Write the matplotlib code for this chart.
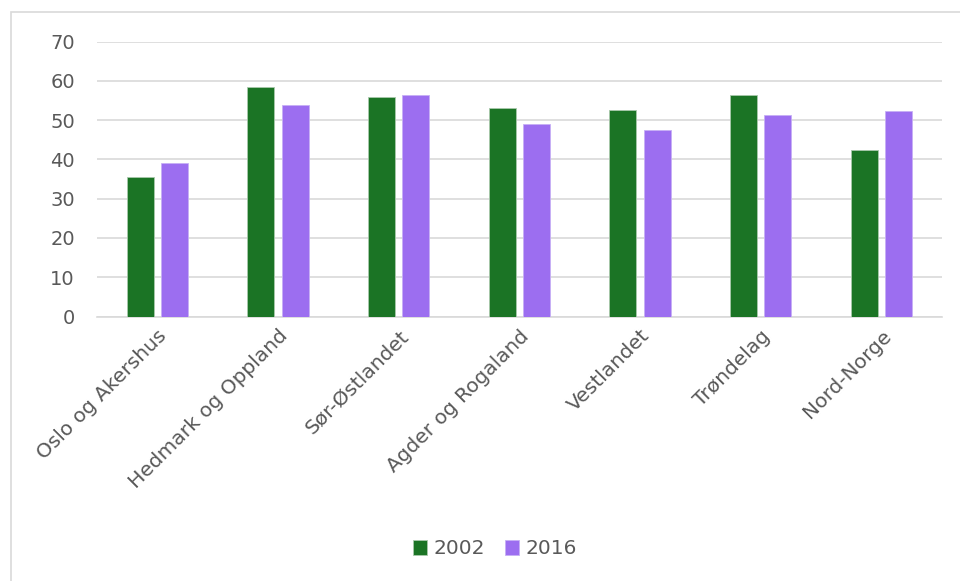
import matplotlib
matplotlib.use("Agg")
import matplotlib.pyplot as plt
from matplotlib.patches import Rectangle
import numpy as np

categories = ["Oslo og Akershus", "Hedmark og Oppland", "Sør-Østlandet", "Agder og Rogaland",
              "Vestlandet", "Trøndelag", "Nord-Norge"]
v2002 = [35.4, 58.3, 55.9, 53.0, 52.5, 56.3, 42.4]
v2016 = [39.1, 53.8, 56.3, 49.1, 47.5, 51.3, 52.3]
yticks = [0, 10, 20, 30, 40, 50, 60, 70]

plt.rcParams['font.family'] = ['DejaVu Sans']
txt = '#595959'
green = '#1b7425'
purple = '#9c6ef0'

fig = plt.figure(figsize=(9.6, 5.81), dpi=100)
fig.patches.append(Rectangle((11/960, -0.05), 1.0, (581-12)/581 + 0.05, transform=fig.transFigure,
                             fill=False, edgecolor='#d9d9d9', linewidth=1.2))
ax = fig.add_axes([97/960, 264.5/581, (941.7-97)/960, 275/581])
x = np.arange(len(categories))
w = 0.224
off = 0.142
ax.bar(x - off, v2002, w, color=green, edgecolor='#a9c9ac', linewidth=0.6, label='2002', zorder=3)
ax.bar(x + off, v2016, w, color=purple, edgecolor='#c7b0f5', linewidth=0.6, label='2016', zorder=3)
ax.set_xlim(-0.5, len(categories) - 0.5)
ax.set_ylim(0, 70)
ax.set_yticks(yticks)
ax.yaxis.grid(True, color='#d9d9d9', linewidth=1.2, zorder=0)
for s in ['top', 'right', 'left']:
    ax.spines[s].set_visible(False)
ax.spines['bottom'].set_color('#d9d9d9')
ax.spines['bottom'].set_linewidth(1.2)
ax.tick_params(axis='y', length=0, labelsize=14, colors=txt, pad=16)
ax.tick_params(axis='x', length=0, labelsize=14.5, colors=txt, pad=7)
ax.set_xticks(x)
ax.set_xticklabels(categories, rotation=45, ha='right', rotation_mode='anchor')
leg = fig.legend(loc='center', bbox_to_anchor=(495/960, 1 - 549/581), ncol=2, frameon=False,
                 fontsize=14.5, handlelength=0.7, handleheight=0.7, handletextpad=0.3, columnspacing=1.0)
for t in leg.get_texts():
    t.set_color(txt)
fig.savefig('out.png', dpi=100)
